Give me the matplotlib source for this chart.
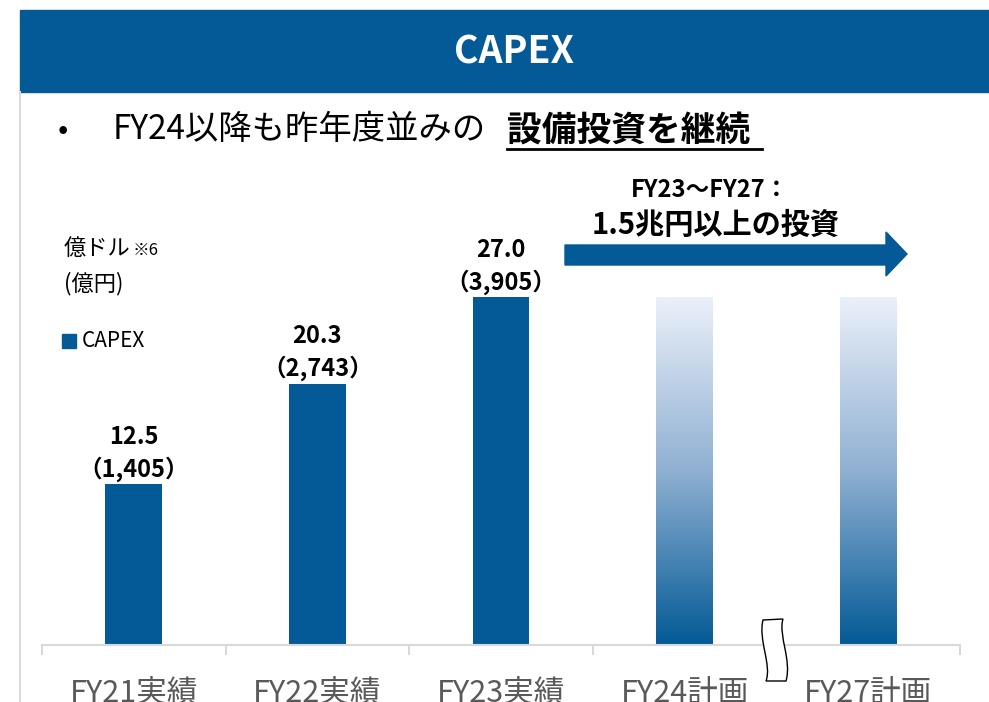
import matplotlib
matplotlib.use("Agg")
import matplotlib.pyplot as plt
import numpy as np
from matplotlib.patches import Rectangle, Polygon, PathPatch
from matplotlib.path import Path
from matplotlib.lines import Line2D
from matplotlib.colors import LinearSegmentedColormap

plt.rcParams['font.family'] = ['Noto Sans CJK JP', 'DejaVu Sans']

# data
categories = ["FY21実績", "FY22実績", "FY23実績", "FY24計画", "FY27計画"]
capex_usd = [12.5, 20.3, 27.0, 27.0, 27.0]   # 億ドル (plan bars drawn at FY23 level)
capex_jpy = ["1,405", "2,743", "3,905", None, None]
is_plan = [False, False, False, True, True]

BLUE = "#035a96"
W, H = 989, 702

fig = plt.figure(figsize=(W / 100, H / 100), dpi=100)

def fx(px):
    return px / W

def fy(py):
    return 1 - py / H

# title banner
fig.add_artist(Rectangle((fx(20), fy(92)), fx(989 - 20), (92 - 10) / H,
                         transform=fig.transFigure, color=BLUE, zorder=0))
fig.text(fx(514), fy(52), "CAPEX", color="white", fontsize=27, fontweight="bold",
         ha="center", va="center")
# slide left border
fig.add_artist(Line2D([fx(20), fx(20)], [fy(92), 0], transform=fig.transFigure,
                      color="#d9d9d9", lw=1.5))

# bullet line
fig.text(fx(58), fy(130), "•", fontsize=22, ha="left", va="center")
fig.text(fx(113), fy(130), "FY24以降も昨年度並みの", fontsize=24, ha="left", va="center")
fig.text(fx(507), fy(130), "設備投資を継続", fontsize=25, fontweight="bold",
         ha="left", va="center")
fig.add_artist(Line2D([fx(507), fx(762)], [fy(149), fy(149)], transform=fig.transFigure,
                      color="black", lw=2))

# unit label and legend
fig.text(fx(64), fy(248), "億ドル", fontsize=16, ha="left", va="center")
fig.text(fx(133), fy(250), "※6", fontsize=12, ha="left", va="center")
fig.text(fx(64), fy(284), "(億円)", fontsize=16, ha="left", va="center")
fig.add_artist(Rectangle((fx(62), fy(348)), fx(14), 14 / H, transform=fig.transFigure,
                         color=BLUE))
fig.text(fx(82), fy(341), "CAPEX", fontsize=15, ha="left", va="center")

# bar chart axes
ax = fig.add_axes([fx(42), fy(645), fx(960 - 42), 35 * 12.88 / H])
ax.set_xlim(-0.5, len(categories) - 0.5)
ax.set_ylim(0, 35)
ax.patch.set_alpha(0)
for s in ["top", "right", "left"]:
    ax.spines[s].set_visible(False)
ax.spines["bottom"].set_color("#d9d9d9")
ax.spines["bottom"].set_linewidth(1.5)
ax.set_yticks([])
x = np.arange(len(categories))
ax.set_xticks(x)
ax.set_xticklabels(categories, fontsize=22, color="#595959")
ax.tick_params(axis="x", which="major", length=0, pad=24)
ax.set_xticks(np.arange(-0.5, len(categories), 1.0), minor=True)
ax.tick_params(axis="x", which="minor", length=7, width=1.5, color="#d9d9d9")

bw = 0.31
grad = LinearSegmentedColormap.from_list("g", ["#ebf0f9", "#8fb0d2", BLUE])
gimg = np.linspace(0, 1, 256).reshape(-1, 1)
for xi, v, jp, plan in zip(x, capex_usd, capex_jpy, is_plan):
    if plan:
        ax.imshow(gimg, cmap=grad, aspect="auto", origin="upper",
                  extent=(xi - bw / 2, xi + bw / 2, 0, v), zorder=2)
    else:
        ax.bar(xi, v, width=bw, color=BLUE, zorder=2)
        ax.annotate(f"{v:.1f}", (xi, v), xytext=(0, 34), textcoords="offset points",
                    ha="center", va="center", fontsize=17, fontweight="bold")
        ax.annotate(f"（{jp}）", (xi, v), xytext=(0, 11), textcoords="offset points",
                    ha="center", va="center", fontsize=17, fontweight="bold")
ax.set_xlim(-0.5, len(categories) - 0.5)
ax.set_ylim(0, 35)

# arrow with annotation
arrow_pts = [(565, 245), (886, 245), (886, 232), (907, 254), (886, 276),
             (886, 265), (565, 265)]
fig.add_artist(Polygon([(fx(a), fy(b)) for a, b in arrow_pts], closed=True,
                       transform=fig.transFigure, color=BLUE))
fig.text(fx(710), fy(190), "FY23～FY27：", fontsize=17, fontweight="bold",
         ha="center", va="center")
fig.text(fx(716), fy(225), "1.5兆円以上の投資", fontsize=21, fontweight="bold",
         ha="center", va="center")

# axis break mark
verts = [(763, 620), (783, 619),
         (778, 635), (792, 660), (786, 681),
         (766, 681),
         (772, 665), (758, 640), (763, 620),
         (763, 620)]
codes = [Path.MOVETO, Path.LINETO,
         Path.CURVE4, Path.CURVE4, Path.CURVE4,
         Path.LINETO,
         Path.CURVE4, Path.CURVE4, Path.CURVE4,
         Path.CLOSEPOLY]
brk = Path([(fx(a), fy(b)) for a, b in verts], codes)
fig.add_artist(PathPatch(brk, transform=fig.transFigure, facecolor="white",
                         edgecolor="black", lw=1, zorder=5))

fig.savefig("out.png", dpi=100)
